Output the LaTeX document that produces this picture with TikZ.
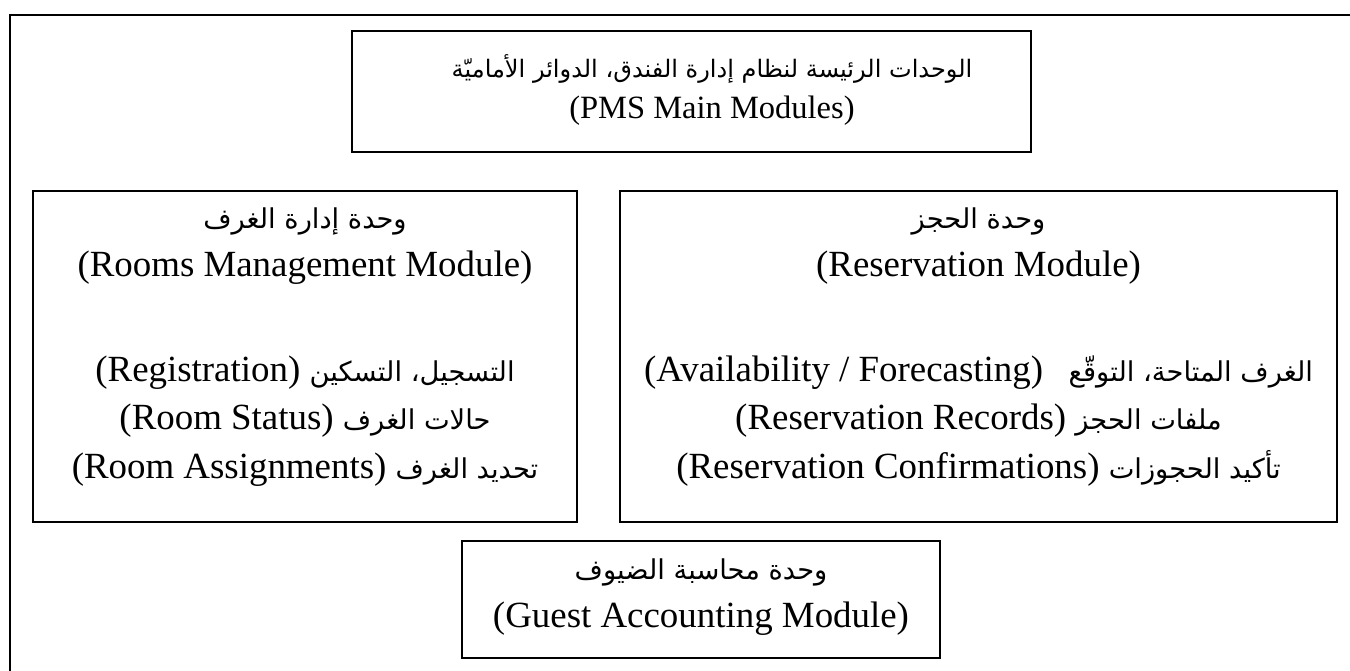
\documentclass[tikz,border=0pt]{standalone}
\usepackage{fontspec}
\setmainfont{Liberation Serif}
\newfontfamily\arabicfont[Script=Arabic,Scale=0.74]{DejaVu Sans}
\TeXXeTstate=1
\newcommand{\artxt}[1]{{\arabicfont\beginR #1\endR}}
\newcommand{\arline}[2]{\beginR{\arabicfont #1} \beginL#2\endL\endR}
\tikzset{
  modbox/.style={draw, line width=1.4pt, inner sep=0pt},
  modtext/.style={align=center, inner sep=0pt, font=\fontsize{21}{27.5}\selectfont}
}

\begin{document}
\begin{tikzpicture}[x=0.02cm, y=-0.02cm]
\useasboundingbox (0,0) rectangle (1350,671);
% Frame
\draw[line width=1.4pt] (10,671) |- (1350,15);
% Module boxes
\node[modbox, minimum width=13.58cm, minimum height=2.42cm] (pms) at (691.5,91.5) {};
\node[modbox, minimum width=10.88cm, minimum height=6.62cm] (rooms) at (305,356.5) {};
\node[modbox, minimum width=14.34cm, minimum height=6.62cm] (resv) at (978.5,356.5) {};
\node[modbox, minimum width=9.56cm, minimum height=2.34cm] (guest) at (701,599.5) {};
% Titles
\node[modtext, font=\fontsize{18.5}{23.5}\selectfont] (pmstitle) at (712,90) {\artxt{الوحدات الرئيسة لنظام إدارة الفندق، الدوائر الأماميّة}\\(PMS Main Modules)};
\node[modtext] (roomstitle) at (305,246) {\artxt{وحدة إدارة الغرف}\\(Rooms Management Module)};
\node[modtext] (resvtitle) at (978.5,246) {\artxt{وحدة الحجز}\\(Reservation Module)};
\node[modtext] (guesttitle) at (701,597) {\artxt{وحدة محاسبة الضيوف}\\(Guest Accounting Module)};
% Sub-functions
\node[modtext] (roomsitems) at (305,421) {\arline{التسجيل، التسكين}{(Registration)}\\
  \arline{حالات الغرف}{(Room Status)}\\
  \arline{تحديد الغرف}{(Room Assignments)}};
\node[modtext] (resvitems) at (978.5,421) {\arline{الغرف المتاحة، التوقّع\hspace{0.6em}}{(Availability / Forecasting)}\\
  \arline{ملفات الحجز}{(Reservation Records)}\\
  \arline{تأكيد الحجوزات}{(Reservation Confirmations)}};
\end{tikzpicture}
\end{document}
